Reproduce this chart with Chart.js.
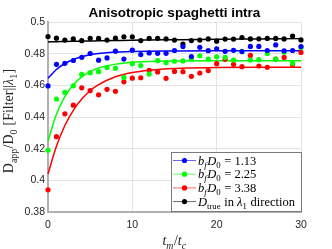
<!DOCTYPE html>
<html>
<head>
<meta charset="utf-8">
<script src="https://cdn.jsdelivr.net/npm/chart.js@4/dist/chart.umd.min.js"></script>
<style>
html,body{margin:0;padding:0;background:#fff;}
#wrap{width:332px;height:249px;}
</style>
</head>
<body>
<div id="wrap"><canvas id="c" width="332" height="249"></canvas></div>
<script>
// ---- data ----
const tm = [0,1,2,3,4,5,6,7,8,9,10,11,12,13,14,15,16,17,18,19,20,21,22,23,24,25,26,27,28,29,30];
const blueVals = [0.4596,0.4733,0.4739,0.4757,0.4777,0.4801,0.4759,0.4773,0.4816,0.4766,0.4822,0.4794,0.4805,0.4802,0.4802,0.4820,0.4845,0.4782,0.4840,0.4819,0.4831,0.4815,0.4821,0.4813,0.4846,0.4846,0.4820,0.4855,0.4818,0.4820,0.4845];
const greenVals = [0.4190,0.4513,0.4555,0.4597,0.4669,0.4680,0.4686,0.4712,0.4708,0.4650,0.4737,0.4725,0.4671,0.4756,0.4743,0.4752,0.4754,0.4767,0.4787,0.4766,0.4780,0.4777,0.4760,0.4813,0.4760,0.4762,0.4801,0.4765,0.4809,0.4739,0.4839];
const redVals = [0.3940,0.4276,0.4420,0.4475,0.4584,0.4567,0.4540,0.4575,0.4562,0.4622,0.4645,0.4648,0.4695,0.4685,0.4644,0.4688,0.4686,0.4657,0.4678,0.4693,0.4737,0.4764,0.4733,0.4718,0.4789,0.4722,0.4714,0.4766,0.4776,0.4732,0.4808];
const blackVals = [0.4908,0.4898,0.4886,0.4893,0.4882,0.4897,0.4896,0.4886,0.4898,0.4907,0.4907,0.4883,0.4897,0.4897,0.4893,0.4886,0.4861,0.4883,0.4886,0.4893,0.4879,0.4892,0.4892,0.4902,0.4893,0.4894,0.4896,0.4896,0.4893,0.4911,0.4887];

// fitted curves
const fitT = [0,1,2,3,4,5,6,8,10,12,15,20,25,30];
const blueFit  = [0.4645,0.4700,0.4738,0.4763,0.4781,0.4793,0.4801,0.4810,0.4814,0.4816,0.4817,0.4818,0.4818,0.4818];
const greenFit = [0.4248,0.4417,0.4528,0.4603,0.4653,0.4687,0.4709,0.4734,0.4746,0.4751,0.4754,0.4755,0.4755,0.4755];
const redFit   = [0.4040,0.4215,0.4346,0.4442,0.4513,0.4566,0.4604,0.4654,0.4681,0.4696,0.4707,0.4712,0.4714,0.4714];
const blackFit = [0.4874,0.4876,0.4877,0.4878,0.4879,0.4880,0.4881,0.4883,0.4885,0.4886,0.4888,0.4891,0.4893,0.4895];

const xTicks = [0,10,20,30];
const xTickLabels = ['0','10','20','30'];
const yTicks = [0.38,0.40,0.42,0.44,0.46,0.48,0.50];
const yTickLabels = ['0.38','0.4','0.42','0.44','0.46','0.48','0.5'];

const titleText = 'Anisotropic spaghetti intra';
const seriesColors = ['#0000ff','#00ff00','#ff0000','#000000'];
// legend labels (rich text segments: i = italic, s = subscript)
const legendLabels = [
  [{t:'b',i:1},{t:'f',i:1,s:1},{t:'D',i:1},{t:'0',s:1},{t:' = 1.13'}],
  [{t:'b',i:1},{t:'f',i:1,s:1},{t:'D',i:1},{t:'0',s:1},{t:' = 2.25'}],
  [{t:'b',i:1},{t:'f',i:1,s:1},{t:'D',i:1},{t:'0',s:1},{t:' = 3.38'}],
  [{t:'D',i:1},{t:'true',s:1},{t:' in '},{t:'λ',i:1},{t:'1',s:1},{t:' direction'}]
];
const yTitle = [{t:'D'},{t:'app',s:1},{t:'/D'},{t:'0',s:1},{t:' [Filter||'},{t:'λ',i:1},{t:'1',s:1},{t:']'}];
const xTitle = [{t:'t',i:1},{t:'m',i:1,s:1},{t:'/'},{t:'t',i:1},{t:'c',i:1,s:1}];

const series = [blueVals, greenVals, redVals, blackVals];
const fits = [blueFit, greenFit, redFit, blackFit];

const toXY = (xs, ys) => xs.map((x, k) => ({x: x, y: ys[k]}));

const datasets = [];
fits.forEach((f, k) => datasets.push({
  data: toXY(fitT, f), showLine: true, borderColor: seriesColors[k], borderWidth: 1.5,
  pointRadius: 0, cubicInterpolationMode: 'monotone', fill: false, clip: false, order: 2
}));
series.forEach((s, k) => datasets.push({
  data: toXY(tm, s), showLine: false, backgroundColor: seriesColors[k], borderColor: seriesColors[k],
  borderWidth: 0, pointRadius: 2.6, clip: false, order: 1
}));

const SERIF = '"Liberation Serif", "DejaVu Serif", serif';
const SANS = '"Liberation Sans", Arial, sans-serif';

function segFont(seg, size) {
  const sz = seg.s ? size * 0.7 : size;
  return (seg.i ? 'italic ' : '') + sz + 'px ' + SERIF;
}
function richWidth(ctx, segs, size) {
  let w = 0;
  segs.forEach(seg => { ctx.font = segFont(seg, size); w += ctx.measureText(seg.t).width + (seg.s ? 0.5 : 0); });
  return w;
}
function drawRich(ctx, segs, x, y, size, align) {
  ctx.save();
  ctx.textBaseline = 'alphabetic';
  ctx.textAlign = 'left';
  let cx = x;
  if (align === 'center') cx = x - richWidth(ctx, segs, size) / 2;
  segs.forEach(seg => {
    ctx.font = segFont(seg, size);
    ctx.fillText(seg.t, cx, y + (seg.s ? size * 0.25 : 0));
    cx += ctx.measureText(seg.t).width + (seg.s ? 0.5 : 0);
  });
  ctx.restore();
}

const decor = {
  id: 'decor',
  afterDraw(chart) {
    const ctx = chart.ctx, ca = chart.chartArea;
    const cxp = (ca.left + ca.right) / 2;
    // title
    ctx.save();
    ctx.fillStyle = '#000';
    ctx.font = 'bold 13.5px ' + SANS;
    ctx.textAlign = 'center';
    ctx.textBaseline = 'alphabetic';
    ctx.fillText(titleText, cxp, 17);
    ctx.restore();
    // x title
    ctx.fillStyle = '#262626';
    drawRich(ctx, xTitle, cxp, 245, 14, 'center');
    // y title
    ctx.save();
    ctx.translate(13, (ca.top + ca.bottom) / 2 + 4);
    ctx.rotate(-Math.PI / 2);
    ctx.fillStyle = '#262626';
    drawRich(ctx, yTitle, 0, 0, 14, 'center');
    ctx.restore();
    // legend
    const bw = 130, bh = 59;
    const bx = ca.right - bw, by = ca.bottom - bh - 1;
    ctx.save();
    ctx.fillStyle = '#fff';
    ctx.fillRect(bx, by, bw, bh);
    ctx.strokeStyle = '#7a7a7a';
    ctx.lineWidth = 1;
    ctx.strokeRect(Math.round(bx) + 0.5, Math.round(by) + 0.5, bw, bh);
    legendLabels.forEach((lab, k) => {
      const ry = by + 8.5 + k * 13.7;
      ctx.globalAlpha = 0.6;
      ctx.strokeStyle = seriesColors[k];
      ctx.beginPath();
      ctx.moveTo(bx + 2, ry); ctx.lineTo(bx + 25, ry);
      ctx.stroke();
      ctx.globalAlpha = 1;
      ctx.fillStyle = seriesColors[k];
      ctx.beginPath();
      ctx.arc(bx + 13.5, ry, 2.6, 0, Math.PI * 2);
      ctx.fill();
      ctx.fillStyle = '#000';
      drawRich(ctx, lab, bx + 27, ry + 4, 12.5, 'left');
    });
    ctx.restore();
  }
};

new Chart(document.getElementById('c'), {
  type: 'scatter',
  data: { datasets: datasets },
  options: {
    responsive: false,
    animation: false,
    events: [],
    layout: { padding: { left: 0, right: 31, top: 22, bottom: 0 } },
    plugins: { legend: { display: false }, title: { display: false }, tooltip: { enabled: false } },
    scales: {
      x: {
        type: 'linear', min: 0, max: 30,
        afterBuildTicks: s => { s.ticks = xTicks.map(v => ({value: v})); },
        afterFit: s => { s.height = 37; },
        ticks: { padding: 7, color: '#262626', font: { family: SANS, size: 10.5 },
                 callback: (v, i) => xTickLabels[i] },
        grid: { color: '#e4e4e4', drawTicks: false },
        border: { color: '#b0b0b0', width: 2 }
      },
      y: {
        min: 0.38, max: 0.5,
        afterBuildTicks: s => { s.ticks = yTicks.map(v => ({value: v})); },
        afterFit: s => { s.width = 48; },
        ticks: { padding: 3, color: '#262626', font: { family: SANS, size: 10.5 },
                 callback: (v, i) => yTickLabels[i] },
        grid: { color: '#e4e4e4', drawTicks: false },
        border: { color: '#b0b0b0', width: 2 }
      }
    }
  },
  plugins: [decor]
});
</script>
</body>
</html>
